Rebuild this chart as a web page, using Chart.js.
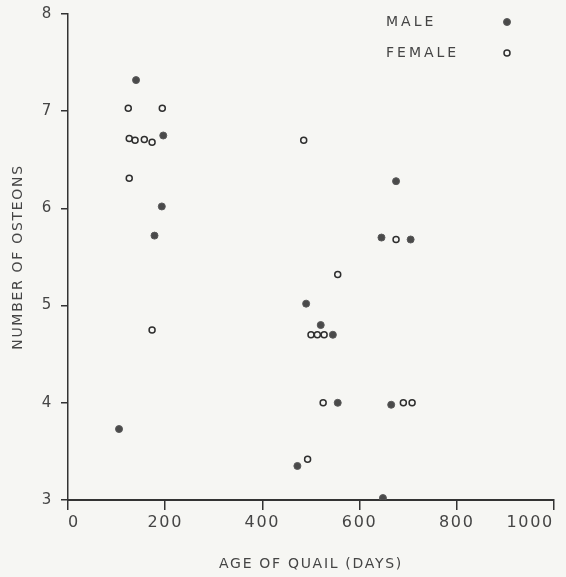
<!DOCTYPE html>
<html>
<head>
<meta charset="utf-8">
<script src="https://cdn.jsdelivr.net/npm/chart.js@4/dist/chart.umd.min.js"></script>
<style>
  html, body { margin: 0; padding: 0; background: #f6f6f3; }
  #wrap { width: 566px; height: 577px; }
</style>
</head>
<body>
<div id="wrap"><canvas id="c" width="566" height="577"></canvas></div>
<script>
// Age of quail (days) and number of osteons, by sex
const maleAge      = [140, 196, 193, 178, 105, 490, 520, 545, 555, 472, 675, 645, 705, 665, 648];
const maleOsteons  = [7.32, 6.75, 6.02, 5.72, 3.73, 5.02, 4.80, 4.70, 4.00, 3.35, 6.28, 5.70, 5.68, 3.98, 3.02];

const femaleAge     = [124, 194, 126, 138, 157, 173, 126, 173, 485, 500, 513, 527, 555, 525, 493, 675, 690, 708];
const femaleOsteons = [7.03, 7.03, 6.72, 6.70, 6.71, 6.68, 6.31, 4.75, 6.70, 4.70, 4.70, 4.70, 5.32, 4.00, 3.42, 5.68, 4.00, 4.00];

const xTicks = [0, 200, 400, 600, 800, 1000];
const yTicks = [3, 4, 5, 6, 7, 8];

const seriesNames = ['MALE', 'FEMALE'];

const ink = '#454545';
const font = "'DejaVu Sans', sans-serif";

const toPoints = (xs, ys) => xs.map((x, i) => ({ x, y: ys[i] }));

// Paper background and letter spacing for all lettering
const paper = {
  id: 'paper',
  beforeLayout(chart) { chart.ctx.letterSpacing = '1.7px'; },
  beforeDraw(chart) {
    const ctx = chart.ctx;
    ctx.letterSpacing = '1.7px';
    ctx.save();
    ctx.fillStyle = '#f6f6f3';
    ctx.fillRect(0, 0, chart.width, chart.height);
    ctx.restore();
  }
};

// Key in the upper right: name on the left, symbol on the right
const key = {
  id: 'key',
  afterDatasetsDraw(chart) {
    const ctx = chart.ctx;
    ctx.save();
    ctx.letterSpacing = '3px';
    ctx.font = "14px " + font;
    ctx.textBaseline = 'middle';
    chart.data.datasets.forEach((ds, i) => {
      const y = 22 + i * 31;
      ctx.fillStyle = ink;
      ctx.fillText(seriesNames[i], 386, y);
      ctx.beginPath();
      ctx.arc(507, y, ds.pointRadius, 0, Math.PI * 2);
      ctx.fillStyle = ds.pointBackgroundColor;
      ctx.fill();
      ctx.lineWidth = ds.pointBorderWidth;
      ctx.strokeStyle = ds.pointBorderColor;
      ctx.stroke();
    });
    ctx.restore();
  }
};

new Chart(document.getElementById('c'), {
  type: 'scatter',
  data: {
    datasets: [
      {
        label: seriesNames[0],
        data: toPoints(maleAge, maleOsteons),
        pointRadius: 3.5,
        pointBackgroundColor: '#4a4a4a',
        pointBorderColor: '#5a5a5a',
        pointBorderWidth: 1
      },
      {
        label: seriesNames[1],
        data: toPoints(femaleAge, femaleOsteons),
        pointRadius: 3,
        pointBackgroundColor: '#f6f6f3',
        pointBorderColor: '#2e2e2e',
        pointBorderWidth: 1.5
      }
    ]
  },
  options: {
    responsive: false,
    animation: false,
    events: [],
    layout: { padding: { top: 14, right: 12, left: 0, bottom: 0 } },
    plugins: { legend: { display: false }, tooltip: { enabled: false } },
    scales: {
      x: {
        type: 'linear',
        min: 0, max: 1000,
        afterBuildTicks(scale) { scale.ticks = xTicks.map(v => ({ value: v })); },
        afterFit(scale) { scale.height = 77; scale.paddingLeft = 0; scale.paddingRight = 0; },
        border: { display: true, color: '#333', width: 2 },
        grid: { display: true, drawOnChartArea: false, drawTicks: true, tickLength: 10, color: '#333', lineWidth: 1.5 },
        ticks: { color: ink, font: { family: font, size: 16 }, padding: 3, maxRotation: 0, autoSkip: false, align: 'inner', callback: v => String(v) },
        title: { display: true, text: 'AGE OF QUAIL (DAYS)', color: ink, font: { family: font, size: 14 }, padding: { top: 16 } }
      },
      y: {
        type: 'linear',
        min: 3, max: 8,
        afterBuildTicks(scale) { scale.ticks = yTicks.map(v => ({ value: v })); },
        afterFit(scale) { scale.width = 68; scale.paddingTop = 0; scale.paddingBottom = 0; },
        border: { display: true, color: '#333', width: 1.5 },
        grid: { display: true, drawOnChartArea: false, drawTicks: true, tickLength: 7, color: '#333', lineWidth: 1.5 },
        ticks: { color: ink, font: { family: font, size: 15 }, padding: 8, callback: v => String(v) },
        title: { display: true, text: 'NUMBER OF OSTEONS', color: ink, font: { family: font, size: 14 }, padding: { top: 10, bottom: 0 } }
      }
    }
  },
  plugins: [paper, key]
});
</script>
</body>
</html>
